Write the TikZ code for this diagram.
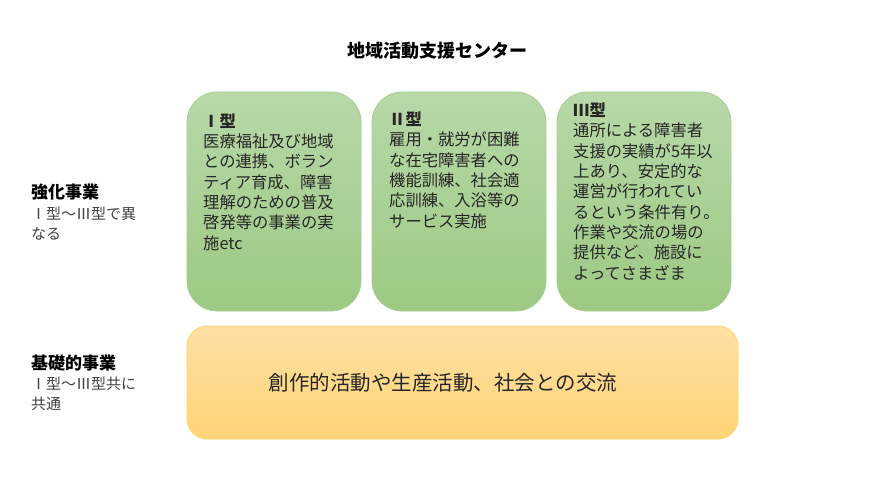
\documentclass[tikz,border=0pt]{standalone}
\usepackage{fontspec}
\setmainfont{Noto Sans CJK JP}
\definecolor{gtop}{HTML}{B8D8A8}
\definecolor{gbot}{HTML}{9CC983}
\definecolor{gline}{HTML}{A8CF93}
\definecolor{otop}{HTML}{FFE0A3}
\definecolor{obot}{HTML}{FFD477}
\definecolor{oline}{HTML}{FFD766}
\definecolor{txt}{HTML}{262626}
\definecolor{subtxt}{HTML}{404040}
\tikzset{
  gbox/.style={draw=gline, line width=0.8pt, rounded corners=30pt, top color=gtop, bottom color=gbot},
  obox/.style={draw=oline, line width=0.8pt, rounded corners=20pt, top color=otop, bottom color=obot},
  boxtext/.style={anchor=base west, inner sep=0pt, align=left, text=txt, font=\fontsize{16.3}{20.3}\selectfont},
  lbl/.style={anchor=base west, inner sep=0pt, align=left, text=subtxt, font=\fontsize{15}{20}\selectfont},
}
\begin{document}
\begin{tikzpicture}[x=1pt,y=-1pt]
\useasboundingbox (0,0) rectangle (883,497);
\node[anchor=center, inner sep=0pt, font=\fontsize{18}{20}\selectfont\bfseries, text=black] (title) at (437,51) {地域活動支援センター};

\path[gbox] (187,92) rectangle (361,311);
\path[gbox] (372,92) rectangle (546,311);
\path[gbox] (557,92) rectangle (731,311);
\path[obox] (187,326) rectangle (738,439);

\node[boxtext] (t1) at (203,249) {\textbf{Ⅰ型}\\医療福祉及び地域\\との連携、ボラン\\ティア育成、障害\\理解のための普及\\啓発等の事業の実\\施etc};
\node[boxtext] (t2) at (389,227) {\textbf{Ⅱ型}\\雇用・就労が困難\\な在宅障害者への\\機能訓練、社会適\\応訓練、入浴等の\\サービス実施};
\node[boxtext] (t3) at (573,279) {\textbf{Ⅲ型}\\通所による障害者\\支援の実績が5年以\\上あり、安定的な\\運営が行われてい\\るという条件有り。\\作業や交流の場の\\提供など、施設に\\よってさまざま};

\node[anchor=center, inner sep=0pt, text=txt, font=\fontsize{20.5}{24}\selectfont] (base) at (443,383) {創作的活動や生産活動、社会との交流};

\node[lbl] (l1) at (31,239) {{\fontsize{17}{20}\selectfont\bfseries\color{black}強化事業}\\Ⅰ型～Ⅲ型で異\\なる};
\node[lbl] (l2) at (31,409) {{\fontsize{17}{20}\selectfont\bfseries\color{black}基礎的事業}\\Ⅰ型～Ⅲ型共に\\共通};
\end{tikzpicture}
\end{document}
